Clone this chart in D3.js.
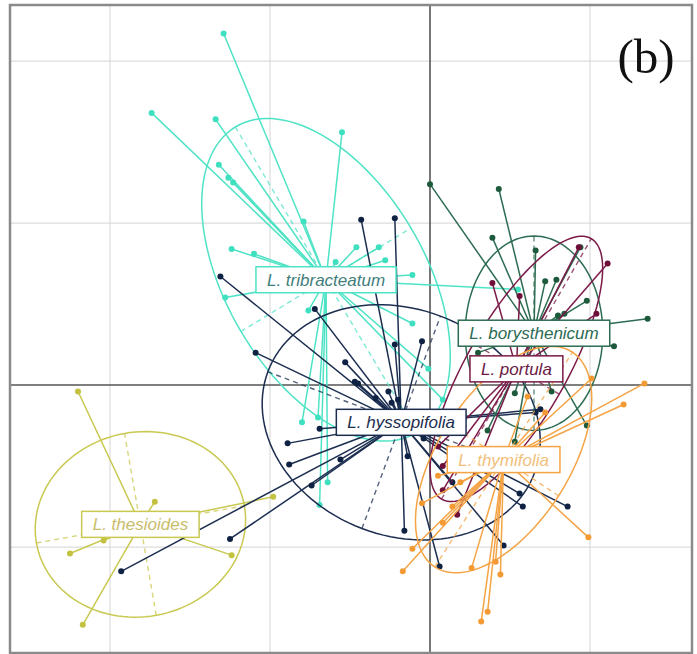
<!DOCTYPE html>
<html>
<head>
<meta charset="utf-8">
<script src="https://cdn.jsdelivr.net/npm/d3@7"></script>
<style>
  body { margin: 0; background: #fff; }
  svg { display: block; }
</style>
</head>
<body>
<svg id="chart" width="697" height="654"></svg>
<script>
const width = 697;
const height = 654;
const svg = d3.select("#chart");

// grid positions (axis units)
const xTicks = [-2, -1, 0, 1];
const yTicks = [-1, 0, 1, 2];

const species = ["L. thesioides", "L. tribracteatum", "L. hyssopifolia", "L. borysthenicum", "L. portula", "L. thymifolia"];
const lineColors = ["#c9c850", "#4fe3c6", "#1c2e50", "#2d6c52", "#7b1a48", "#f5a445"];
const dotColors = ["#c2c140", "#3fe0c0", "#0f2244", "#1d5a3c", "#6e0f3a", "#f39a35"];
const textColors = ["#c8bd6a", "#3f7e7c", "#1c2e50", "#2d6b55", "#6a1a45", "#f1bf7c"];

// centroids (class means)
const centroidX = [-1.81, -0.65, -0.18, 0.65, 0.54, 0.46];
const centroidY = [-0.86, 0.65, -0.23, 0.32, 0.10, -0.46];

// ellipses: semi-axes and angle (degrees) of first axis
const ellipseA = [0.66, 1.10, 0.89, 0.60, 0.93, 0.79];
const ellipseB = [0.57, 0.62, 0.70, 0.43, 0.31, 0.41];
const ellipseAngle = [10, -59, -20.5, 90, 59.8, 57];

// individuals per species
const thesioidesX = [-2.20, -1.72, -0.98, -2.04, -2.25, -1.24, -2.17];
const thesioidesY = [-0.04, -0.72, -0.69, -0.96, -1.04, -1.05, -1.48];

const tribracteatumX = [-1.29, -1.74, -1.34, -0.55, -1.32, -1.26, -1.23, -0.79, -1.24, -1.10, -0.59, -0.46, -0.32,
  -0.28, -0.11, -1.28, -0.76, -0.11, 0.55, -0.80, -0.70, -0.64, -0.69, -0.01, 0.08];
const tribracteatumY = [2.17, 1.68, 1.64, 1.56, 1.36, 1.28, 1.25, 1.01, 0.84, 0.81, 0.76, 0.85, 0.85,
  0.77, 0.68, 0.54, 0.46, 0.38, 0.59, -0.23, -0.20, -0.60, -0.74, 0.10, -0.09];

const hyssopifoliaX = [-1.31, -0.72, -0.43, -0.22, -1.09, -0.22, -0.05, -0.53, -0.47, -0.45, -0.34, -0.26, -0.24, -0.20,
  -0.69, -0.89, -0.88, -0.56, -0.74, -0.14, -0.16, -0.04, 0.14, -1.25, -1.93, 0.06, 0.46, 0.56, 0.58, 0.86, 0.66, 0.69];
const hyssopifoliaY = [0.67, 0.47, 1.02, 1.03, 0.20, 0.25, 0.27, 0.14, 0.02, 0.01, -0.08, -0.04, -0.11, -0.09,
  -0.27, -0.36, -0.49, -0.46, -0.62, -0.44, -0.90, -0.33, -0.60, -0.95, -1.15, -1.12, -0.99, -0.67, -0.75, -0.75, -0.17, -0.15];

const borysthenicumX = [0.00, 0.43, 0.39, 0.66, 0.72, 0.79, 0.98, 0.80, 0.84, 1.36, 1.15, 0.94, 0.30, 0.53, 0.76, 0.98, 0.36, 0.53];
const borysthenicumY = [1.24, 1.21, 0.91, 0.83, 0.64, 0.65, 0.52, 0.43, 0.44, 0.41, 0.24, 0.85, 0.20, -0.05, -0.04, -0.25, -0.28, -0.35];

const portulaX = [0.93, 1.11, 0.39, 0.56, 1.04, 0.05, 0.08, 0.08, 0.17];
const portulaY = [0.85, 0.75, 0.63, 0.55, 0.44, -0.38, -0.50, -0.65, -0.80];

const thymifoliaX = [1.01, 1.34, 1.21, 0.61, 0.72, 0.05, -0.05, 0.14, 0.08, -0.11, -0.17, 0.26, 0.41, 0.44, 0.36, 0.32, 0.99, 0.19];
const thymifoliaY = [0.04, 0.01, -0.12, -0.07, -0.17, -0.56, -0.73, -0.75, -0.85, -1.01, -1.15, -1.13, -1.09, -1.17, -1.40, -1.46, -0.94, -0.60];

const pointsX = [thesioidesX, tribracteatumX, hyssopifoliaX, borysthenicumX, portulaX, thymifoliaX];
const pointsY = [thesioidesY, tribracteatumY, hyssopifoliaY, borysthenicumY, portulaY, thymifoliaY];

const x = d3.scaleLinear().domain([-2.625, 1.6375]).range([10, 692]);
const y = d3.scaleLinear().domain([-1.654, 2.346]).range([653, 5]);

// grid
const grid = svg.append("g");
grid.selectAll("line.gx").data(xTicks.filter(d => d !== 0)).enter().append("line")
  .attr("x1", d => x(d)).attr("x2", d => x(d))
  .attr("y1", y.range()[0]).attr("y2", y.range()[1])
  .attr("stroke", "#dcdcdc").attr("stroke-width", 1.2);
grid.selectAll("line.gy").data(yTicks.filter(d => d !== 0)).enter().append("line")
  .attr("y1", d => y(d)).attr("y2", d => y(d))
  .attr("x1", x.range()[0]).attr("x2", x.range()[1])
  .attr("stroke", "#dcdcdc").attr("stroke-width", 1.2);
grid.append("line")
  .attr("x1", x(0)).attr("x2", x(0)).attr("y1", y.range()[0]).attr("y2", y.range()[1])
  .attr("stroke", "#555").attr("stroke-width", 1.6);
grid.append("line")
  .attr("y1", y(0)).attr("y2", y(0)).attr("x1", x.range()[0]).attr("x2", x.range()[1])
  .attr("stroke", "#555").attr("stroke-width", 1.6);

const ellipsePath = (i) => {
  const th = ellipseAngle[i] * Math.PI / 180;
  const pts = d3.range(0, 361, 3).map(t => {
    const r = t * Math.PI / 180;
    const ex = ellipseA[i] * Math.cos(r), ey = ellipseB[i] * Math.sin(r);
    return [x(centroidX[i] + ex * Math.cos(th) - ey * Math.sin(th)),
            y(centroidY[i] + ex * Math.sin(th) + ey * Math.cos(th))];
  });
  return d3.line()(pts) + "Z";
};

const plot = svg.append("g");

species.forEach((name, i) => {
  const g = plot.append("g");
  const th = ellipseAngle[i] * Math.PI / 180;
  const cx = centroidX[i], cy = centroidY[i];

  g.append("path")
    .attr("d", ellipsePath(i))
    .attr("fill", "none")
    .attr("stroke", lineColors[i])
    .attr("stroke-width", 1.5);

  // dashed ellipse axes
  const axes = [
    [ellipseA[i] * Math.cos(th), ellipseA[i] * Math.sin(th)],
    [-ellipseB[i] * Math.sin(th), ellipseB[i] * Math.cos(th)]
  ];
  g.selectAll("line.axis").data(axes).enter().append("line")
    .attr("x1", d => x(cx - d[0])).attr("y1", d => y(cy - d[1]))
    .attr("x2", d => x(cx + d[0])).attr("y2", d => y(cy + d[1]))
    .attr("stroke", lineColors[i])
    .attr("stroke-opacity", 0.75)
    .attr("stroke-width", 1.4)
    .attr("stroke-dasharray", "5,4");

  const pts = pointsX[i].map((px, k) => [px, pointsY[i][k]]);

  g.selectAll("line.star").data(pts).enter().append("line")
    .attr("x1", x(cx)).attr("y1", y(cy))
    .attr("x2", d => x(d[0])).attr("y2", d => y(d[1]))
    .attr("stroke", lineColors[i])
    .attr("stroke-width", 1.5);

  g.selectAll("circle").data(pts).enter().append("circle")
    .attr("cx", d => x(d[0])).attr("cy", d => y(d[1]))
    .attr("r", 3)
    .attr("fill", dotColors[i]);
});

// class labels
const labels = svg.append("g");
species.forEach((name, i) => {
  const lg = labels.append("g").attr("transform", `translate(${x(centroidX[i])},${y(centroidY[i])})`);
  const rect = lg.append("rect").attr("fill", "#fff").attr("stroke", lineColors[i]).attr("stroke-width", 1.5);
  const t = lg.append("text")
    .attr("text-anchor", "middle")
    .attr("dy", "0.35em")
    .style("font-family", "'Liberation Sans', Arial, sans-serif")
    .style("font-style", "italic")
    .style("font-size", "17px")
    .attr("fill", textColors[i])
    .text(name);
  const w = t.node().getComputedTextLength() + 22;
  rect.attr("x", -w / 2).attr("y", -13).attr("width", w).attr("height", 26);
});

// frame
svg.append("rect")
  .attr("x", 10).attr("y", 5).attr("width", 682).attr("height", 648)
  .attr("fill", "none").attr("stroke", "#8a8a8a").attr("stroke-width", 2.5);

svg.append("text")
  .attr("x", 646).attr("y", 73)
  .attr("text-anchor", "middle")
  .style("font-family", "'Liberation Serif', 'Times New Roman', serif")
  .style("font-size", "49px")
  .attr("fill", "#111")
  .text("(b)");
</script>
</body>
</html>
